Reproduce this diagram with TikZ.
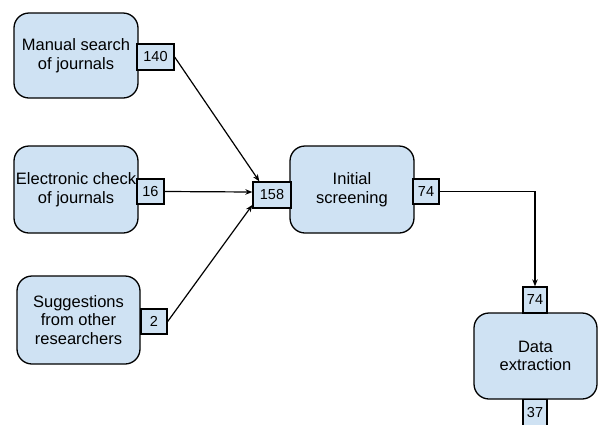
\documentclass[tikz,border=0pt]{standalone}
\usepackage{fontspec}
\setmainfont{Liberation Sans}
\usetikzlibrary{arrows.meta}
\definecolor{boxfill}{HTML}{CFE2F3}
\begin{document}
\begin{tikzpicture}[x=1pt,y=-1pt,
  stage/.style={draw=black, line width=1.3pt, fill=boxfill, rounded corners=15pt,
    inner sep=0pt, align=center, font=\fontsize{16.5}{18.5}\selectfont},
  port/.style={draw=black, line width=1.3pt, fill=boxfill, inner sep=0pt,
    font=\fontsize{14.5}{16}\selectfont},
  flow/.style={line width=1.2pt, -{Stealth[length=7pt,width=5.5pt]}}]
\useasboundingbox (0,0) rectangle (598,424);
% stages
\node[stage, minimum width=124pt, minimum height=85pt] (manual) at (76,55.5) {Manual search\\of journals};
\node[stage, minimum width=124pt, minimum height=87pt] (elec) at (76,189.5) {Electronic check\\of journals};
\node[stage, minimum width=123pt, minimum height=88pt] (sugg) at (78.5,320) {Suggestions\\from other\\researchers};
\node[stage, minimum width=124pt, minimum height=87pt] (init) at (352,189.5) {Initial\\screening};
\node[stage, minimum width=123pt, minimum height=86pt] (data) at (535.5,356) {Data\\extraction};
% ports
\node[port, minimum width=37pt, minimum height=26pt] (p140) at (155.5,57) {140};
\node[port, minimum width=27pt, minimum height=25pt] (p16) at (150.5,191.5) {16};
\node[port, minimum width=26pt, minimum height=25pt] (p2) at (154,321.5) {2};
\node[port, minimum width=38pt, minimum height=26pt] (p158) at (272,195) {158};
\node[port, minimum width=26pt, minimum height=25pt] (p74a) at (426,191.5) {74};
\node[port, minimum width=24pt, minimum height=26pt] (p74b) at (535,300) {74};
\node[port, minimum width=24pt, minimum height=27pt] (p37) at (535,413) {37};
% connectors
\draw[flow] (p140.east) -- ([xshift=7pt]p158.north west);
\draw[flow] (p16.east) -- ([yshift=3pt]p158.west);
\draw[flow] (p2.east) -- ([yshift=-10pt]p158.west);
\draw[flow] (p74a.east) -| (p74b.north);
\end{tikzpicture}
\end{document}
